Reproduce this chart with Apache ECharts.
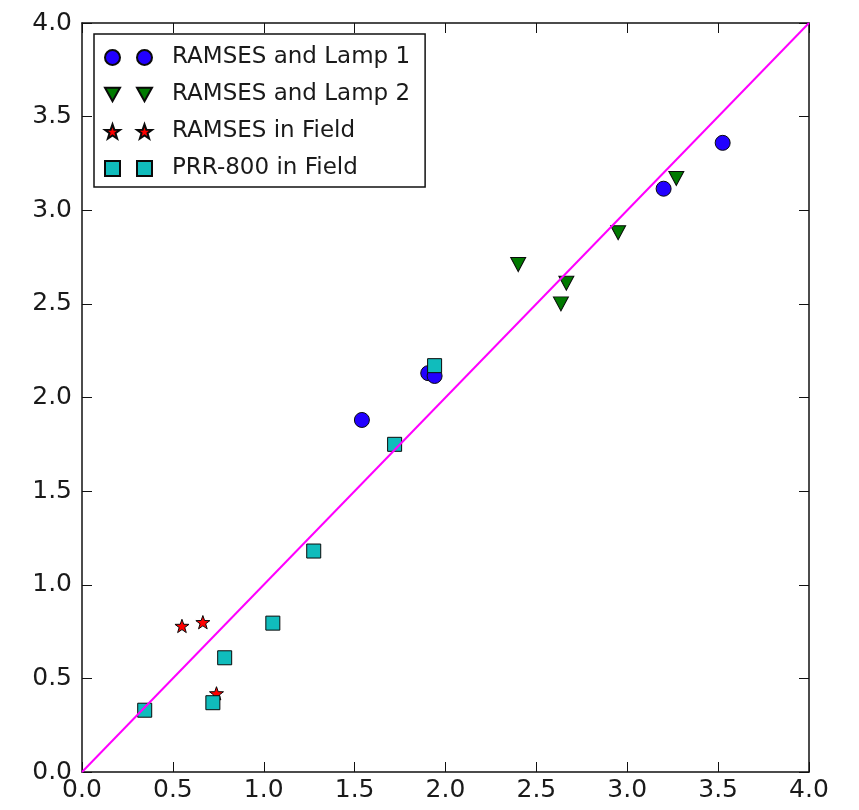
<!DOCTYPE html>
<html><head><meta charset="utf-8">
<script src="https://cdn.jsdelivr.net/npm/echarts@6/dist/echarts.min.js"></script>
<style>html,body{margin:0;padding:0;background:#fff}#c{width:859px;height:810px}</style>
</head><body><div id="c"></div>
<script>
const seriesNames = ['RAMSES and Lamp 1', 'RAMSES and Lamp 2', 'RAMSES in Field', 'PRR-800 in Field'];
const lamp1 = [[1.54, 1.88], [1.905, 2.13], [1.94, 2.115], [3.20, 3.115], [3.525, 3.36]];
const lamp2 = [[2.40, 2.71], [2.665, 2.61], [2.635, 2.50], [2.95, 2.88], [3.27, 3.17]];
const field = [[0.55, 0.78], [0.665, 0.80], [0.74, 0.42]];
const prr = [[0.345, 0.33], [0.72, 0.37], [0.785, 0.61], [1.05, 0.795], [1.275, 1.18], [1.72, 1.75], [1.94, 2.17]];
const oneToOne = [[0, 0], [4, 4]];
const axisMin = 0, axisMax = 4, axisStep = 0.5;

const STAR = 'path://M0,-10L2.35,-3.24L9.51,-3.09L3.8,1.24L5.88,8.09L0,4L-5.88,8.09L-3.8,1.24L-9.51,-3.09L-2.35,-3.24Z';
const TRI_DOWN = 'path://M0,0L10,0L5,9Z';
const font = 'DejaVu Sans';
const axisCol = '#111';

function xAx(pos, show) {
  return {
    type: 'value', position: pos, min: axisMin, max: axisMax, interval: axisStep,
    axisLine: { show: true, onZero: false, lineStyle: { color: axisCol, width: 1.5 } },
    axisTick: { show: true, inside: true, length: 10, lineStyle: { color: axisCol, width: 1 } },
    axisLabel: { show: show, fontFamily: font, fontSize: 25, color: '#1a1a1a', margin: 6,
      formatter: v => v.toFixed(1) },
    splitLine: { show: false }
  };
}
function yAx(pos, show) {
  return {
    type: 'value', position: pos, min: axisMin, max: axisMax, interval: axisStep,
    axisLine: { show: true, onZero: false, lineStyle: { color: axisCol, width: 1.5 } },
    axisTick: { show: true, inside: true, length: 10, lineStyle: { color: axisCol, width: 1 } },
    axisLabel: { show: show, fontFamily: font, fontSize: 25, color: '#1a1a1a', margin: 10,
      formatter: v => v.toFixed(1) },
    splitLine: { show: false }
  };
}

const edge = { borderColor: '#0a0a0a', borderWidth: 1 };
const legendData = seriesNames.map((n, i) => (i === 1 ? { name: n, icon: TRI_DOWN } : { name: n }));

const chart = echarts.init(document.getElementById('c'), null, { renderer: 'canvas' });
chart.setOption({
  animation: false,
  backgroundColor: '#fff',
  grid: { left: 82, right: 50, top: 23, bottom: 38 },
  xAxis: [xAx('bottom', true), xAx('top', false)],
  yAxis: [yAx('left', true), yAx('right', false)],
  legend: [
    {
      orient: 'vertical', left: 94, top: 34,
      padding: [12, 15, 7, 42],
      itemWidth: 15, itemHeight: 15, itemGap: 14,
      backgroundColor: '#fff', borderColor: '#111', borderWidth: 1.5,
      textStyle: { fontFamily: font, fontSize: 23, color: '#1a1a1a', padding: [0, 0, 0, 15] },
      data: legendData, selectedMode: false, z: 20
    },
    {
      orient: 'vertical', left: 104, top: 46, padding: 0,
      itemWidth: 15, itemHeight: 15, itemGap: 14,
      formatter: () => ' ',
      textStyle: { fontFamily: font, fontSize: 23, color: 'rgba(0,0,0,0)' },
      data: legendData, selectedMode: false, z: 30
    }
  ],
  series: [
    { name: seriesNames[0], type: 'scatter', data: lamp1, symbol: 'circle', symbolSize: 15,
      itemStyle: Object.assign({ color: '#2200ff', opacity: 1 }, edge), z: 3 },
    { name: seriesNames[1], type: 'scatter', data: lamp2, symbol: 'triangle', symbolRotate: 180, symbolSize: [15, 14],
      itemStyle: Object.assign({ color: '#007a00', opacity: 1 }, edge), z: 3 },
    { name: seriesNames[2], type: 'scatter', data: field, symbol: STAR, symbolSize: 14, symbolKeepAspect: true,
      itemStyle: Object.assign({ color: '#ff0000', opacity: 1 }, edge), z: 3 },
    { name: seriesNames[3], type: 'scatter', data: prr, symbol: 'rect', symbolSize: 14,
      itemStyle: Object.assign({ color: '#10bcbc', opacity: 1 }, edge), z: 3 },
    { name: '1:1', type: 'line', data: oneToOne, showSymbol: false, symbol: 'none',
      lineStyle: { color: '#ff00ff', width: 2 }, z: 5, silent: true }
  ]
});
</script>
</body></html>
